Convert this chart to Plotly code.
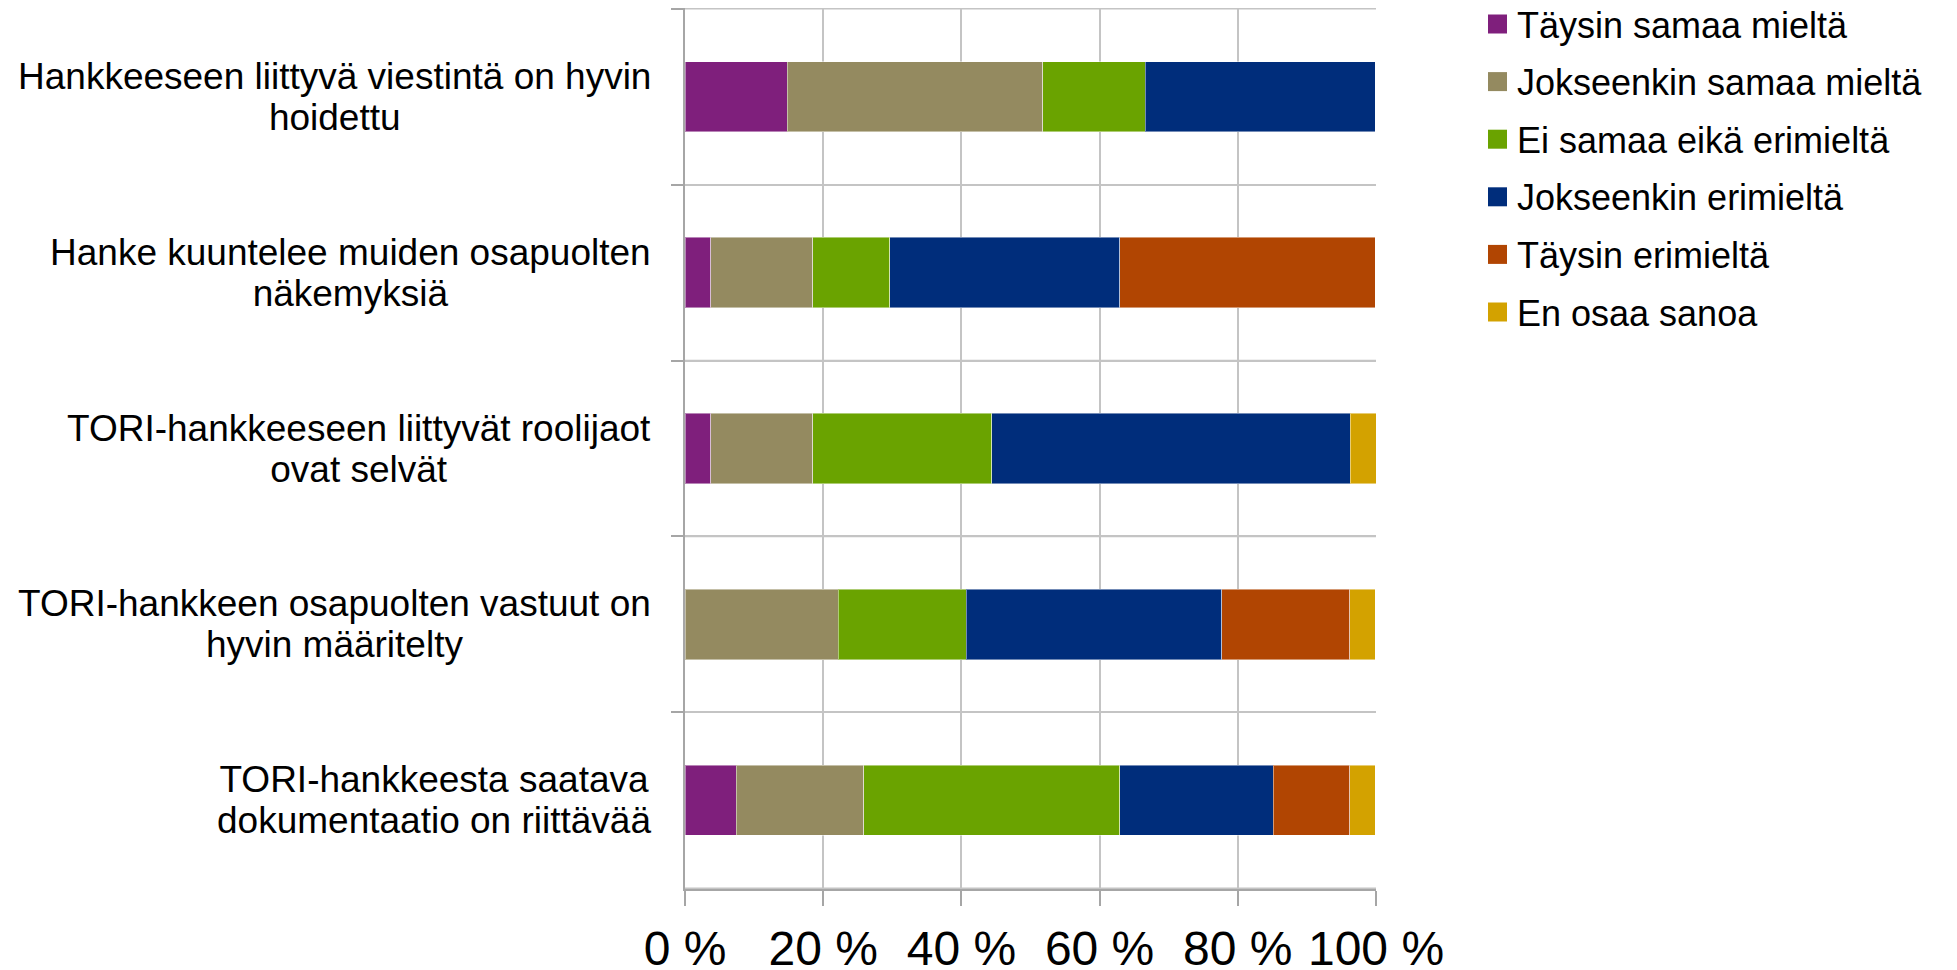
import plotly.graph_objects as go

# ---- data ----
categories = [
    "Hankkeeseen liittyvä viestintä on hyvin\nhoidettu",
    "Hanke kuuntelee muiden osapuolten\nnäkemyksiä",
    "TORI-hankkeeseen liittyvät roolijaot\novat selvät",
    "TORI-hankkeen osapuolten vastuut on\nhyvin määritelty",
    "TORI-hankkeesta saatava\ndokumentaatio on riittävää",
]
series_names = [
    "Täysin samaa mieltä",
    "Jokseenkin samaa mieltä",
    "Ei samaa eikä erimieltä",
    "Jokseenkin erimieltä",
    "Täysin erimieltä",
    "En osaa sanoa",
]
taysin_samaa = [14.8, 3.7, 3.7, 0.0, 7.4]
jokseenkin_samaa = [37.0, 14.8, 14.8, 22.2, 18.5]
ei_samaa_eika_eri = [14.8, 11.1, 25.9, 18.5, 37.0]
jokseenkin_eri = [33.3, 33.3, 51.9, 37.0, 22.2]
taysin_eri = [0.0, 37.0, 0.0, 18.5, 11.1]
en_osaa = [0.0, 0.0, 3.7, 3.7, 3.7]
series_values = [taysin_samaa, jokseenkin_samaa, ei_samaa_eika_eri,
                 jokseenkin_eri, taysin_eri, en_osaa]
colors = ["#7F1F7C", "#948A60", "#6AA300", "#002D7B", "#B14502", "#D3A200"]
x_ticks = [0, 20, 40, 60, 80, 100]
x_tick_labels = ["0 %", "20 %", "40 %", "60 %", "80 %", "100 %"]

# ---- layout geometry (pixels) ----
W, H = 1957, 970
PL, PR, PT, PB = 685, 1376, 8, 889

def px_x(p):
    return (p - PL) / (PR - PL)

def px_y(p):
    return 1 - (p - PT) / (PB - PT)

fig = go.Figure()
for name, vals, col in zip(series_names, series_values, colors):
    fig.add_trace(go.Bar(
        y=categories, x=vals, name=name, orientation="h",
        marker=dict(color=col, line=dict(color="rgba(255,255,255,0.45)", width=1)),
        width=0.4, showlegend=False,
    ))

FONT = "Liberation Sans, Arial, sans-serif"
GRID = "#c4c4c4"
AXIS = "#a6a6a6"
annotations = []
shapes = []

# category labels (centre-aligned, two lines, tighter line spacing)
for cat in categories:
    text = "<br>".join('<span style="font-size:37px">%s</span>' % ln
                       for ln in cat.split("\n"))
    annotations.append(dict(
        x=px_x(653), xref="paper", xanchor="right",
        y=cat, yref="y", yanchor="middle",
        text=text, showarrow=False, align="center",
        font=dict(family=FONT, size=31.5, color="#000000"),
    ))

# horizontal grid lines at category boundaries
for k in range(len(categories) + 1):
    shapes.append(dict(
        type="line", xref="paper", yref="y",
        x0=0, x1=1, y0=k - 0.5, y1=k - 0.5,
        line=dict(color=GRID, width=1.5), layer="below",
    ))

# manual legend
for i, (name, col) in enumerate(zip(series_names, colors)):
    cy = 24 + i * 57.6
    shapes.append(dict(
        type="rect", xref="paper", yref="paper",
        x0=px_x(1488), x1=px_x(1507), y0=px_y(cy - 9.5), y1=px_y(cy + 9.5),
        fillcolor=col, line=dict(width=0),
    ))
    annotations.append(dict(
        x=px_x(1515), xref="paper", xanchor="left",
        y=px_y(cy + 1), yref="paper", yanchor="middle",
        text=name, showarrow=False,
        font=dict(family=FONT, size=36, color="#000000"),
    ))

fig.update_layout(
    barmode="stack",
    width=W, height=H,
    margin=dict(l=PL, r=W - PR, t=PT, b=H - PB, pad=0),
    paper_bgcolor="#ffffff", plot_bgcolor="#ffffff",
    font=dict(family=FONT, color="#000000"),
    annotations=annotations,
    shapes=shapes,
    xaxis=dict(
        range=[0, 100], tickmode="array", tickvals=x_ticks, ticktext=x_tick_labels,
        showgrid=True, gridcolor=GRID, gridwidth=1.5,
        showline=True, linecolor=AXIS, linewidth=2,
        ticks="outside", ticklen=15, tickcolor=AXIS, tickwidth=1.5,
        ticklabelstandoff=1,
        tickfont=dict(family=FONT, size=48, color="#000000"),
        zeroline=False, fixedrange=True, automargin=False,
    ),
    yaxis=dict(
        autorange="reversed", type="category",
        tickson="boundaries", showticklabels=False,
        showgrid=True, gridcolor=GRID, gridwidth=1.5,
        showline=True, linecolor=AXIS, linewidth=2,
        ticks="outside", ticklen=12, tickcolor=AXIS, tickwidth=1.5,
        zeroline=False, automargin=False,
    ),
)

fig.write_html("out.html")
